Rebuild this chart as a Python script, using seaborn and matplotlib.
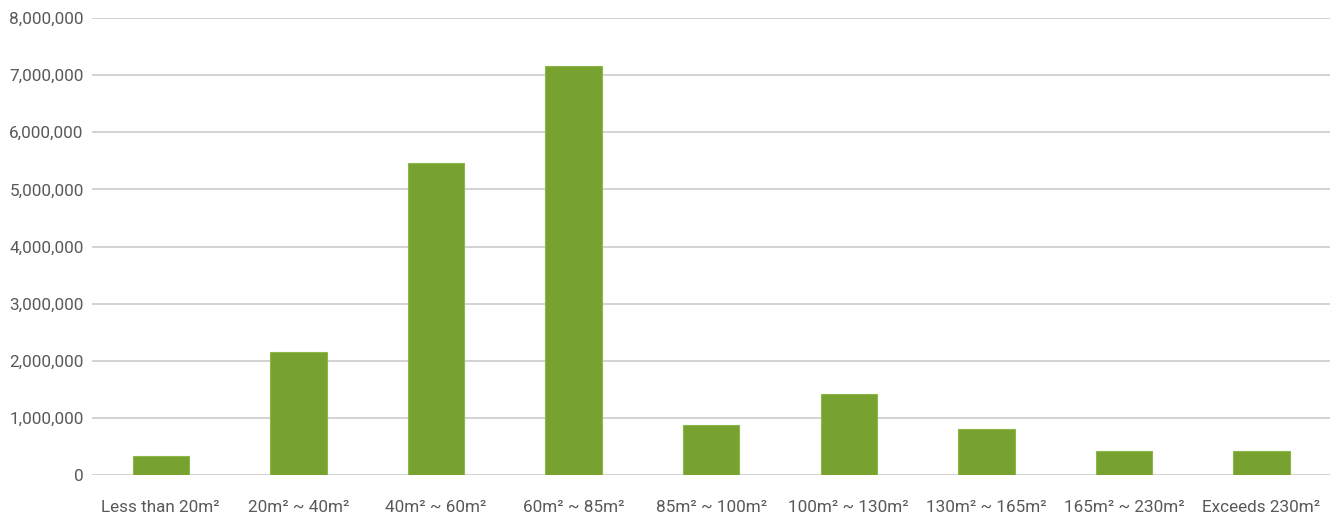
import matplotlib
matplotlib.use("Agg")
import matplotlib.pyplot as plt
import matplotlib.ticker as mticker
from matplotlib import font_manager
import seaborn as sns
import pandas as pd

categories = ["Less than 20m²", "20m² ~ 40m²", "40m² ~ 60m²", "60m² ~ 85m²",
              "85m² ~ 100m²", "100m² ~ 130m²", "130m² ~ 165m²",
              "165m² ~ 230m²", "Exceeds 230m²"]
values = [335000, 2160000, 5460000, 7160000, 875000, 1410000, 810000, 425000, 425000]

sns.set_theme(style="white")
names = {f.name for f in font_manager.fontManager.ttflist}
fam = "Liberation Sans Narrow" if "Liberation Sans Narrow" in names else "Roboto"
plt.rcParams["font.family"] = [fam, "DejaVu Sans"]

df = pd.DataFrame({"cat": categories, "val": values})
fig = plt.figure(figsize=(13.33, 5.16), dpi=100)
ax = fig.add_axes([0.069, 0.0795, 0.929, 0.8855])
sns.barplot(data=df, x="cat", y="val", color="#78a22f", width=0.41,
            edgecolor="#8cb84a", linewidth=0.8, ax=ax, saturation=1)
ax.set_ylim(0, 8000000)
ax.set_xlim(-0.5, len(categories) - 0.5)
ax.yaxis.set_major_locator(mticker.MultipleLocator(1000000))
ax.yaxis.set_major_formatter(mticker.FuncFormatter(lambda v, p: f"{int(v):,}"))
ax.grid(axis="y", color="#d0d0d0", linewidth=1.3)
ax.set_axisbelow(True)
for s in ax.spines.values():
    s.set_visible(False)
ax.set_xlabel("")
ax.set_ylabel("")
ax.tick_params(axis="both", length=0, labelsize=12.3, colors="#595959")
ax.tick_params(axis="x", pad=18)
ax.tick_params(axis="y", pad=6)
fig.savefig("out.png", dpi=100)
